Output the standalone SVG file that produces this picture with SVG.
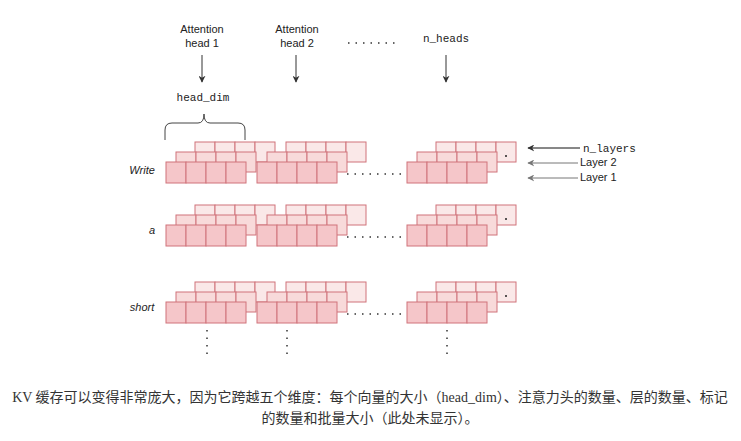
<svg xmlns="http://www.w3.org/2000/svg" width="741" height="441" viewBox="0 0 741 441">
<defs>
<style>
.f{fill:#f5c6c9;stroke:#d0737a;stroke-width:1}
.m{fill:#f8dada;stroke:#d0737a;stroke-width:1}
.b{fill:#fae8e8;stroke:#d0737a;stroke-width:1}
.t{font-family:"Liberation Sans",Arial,sans-serif;font-size:11px;fill:#222}
.mono{font-family:"Liberation Mono","DejaVu Sans Mono",monospace;font-size:11px;fill:#222}
.dots{stroke:#333;stroke-width:1.5;stroke-dasharray:1.5 6;fill:none}
.cap{font-family:"Liberation Serif","Noto Sans CJK SC",serif;font-size:14px;fill:#333}
</style>
<marker id="a" viewBox="0 0 10 10" refX="9" refY="5" markerWidth="7" markerHeight="7" orient="auto"><path d="M0,0 L10,5 L0,10 L3,5 z" fill="#333"/></marker>
<marker id="g" viewBox="0 0 10 10" refX="9" refY="5" markerWidth="7" markerHeight="7" orient="auto"><path d="M0,0 L10,5 L0,10 L3,5 z" fill="#777"/></marker>
<g id="blk">
<g class="b"><rect x="29" y="-20" width="20" height="20"/><rect x="49" y="-20" width="20" height="20"/><rect x="69" y="-20" width="20" height="20"/><rect x="89" y="-20" width="20" height="20"/></g>
<g class="m"><rect x="10" y="-10" width="20" height="20"/><rect x="30" y="-10" width="20" height="20"/><rect x="50" y="-10" width="20" height="20"/><rect x="70" y="-10" width="20" height="20"/></g>
<g class="f"><rect x="0" y="0" width="20" height="21"/><rect x="20" y="0" width="20" height="21"/><rect x="40" y="0" width="20" height="21"/><rect x="60" y="0" width="20" height="21"/></g>
</g>
<g id="row">
<use href="#blk" x="0"/>
<use href="#blk" x="91"/>
<use href="#blk" x="241"/>
<path class="dots" d="M181,12 H236"/>
<circle cx="340" cy="-6" r="1" fill="#222"/>
</g>
</defs>
<g id="heads">
<text class="t" x="202" y="33" text-anchor="middle">Attention</text>
<text class="t" x="202" y="47" text-anchor="middle">head 1</text>
<text class="t" x="297" y="33" text-anchor="middle">Attention</text>
<text class="t" x="297" y="47" text-anchor="middle">head 2</text>
<path class="dots" d="M348,43 H398"/>
<text class="mono" x="446" y="42" text-anchor="middle">n_heads</text>
<text class="mono" x="203" y="101" text-anchor="middle">head_dim</text>
<path d="M165,140 V130 Q165,123 172,123 H198 Q204,123 204,114 Q204,123 210,123 H238 Q245,123 245,130 V140" fill="none" stroke="#444" stroke-width="1"/>
</g>
<g id="rowWrite"><use href="#row" x="166" y="162"/><text class="t" x="142" y="174" text-anchor="middle" font-style="italic">Write</text></g>
<g id="rowA"><use href="#row" x="166" y="225"/><text class="t" x="152" y="234" text-anchor="middle" font-style="italic">a</text></g>
<g id="rowShort"><use href="#row" x="166" y="302"/><text class="t" x="142" y="311" text-anchor="middle" font-style="italic">short</text></g>
<g id="labels">
<text class="mono" x="583" y="152" font-size="10">n_layers</text>
<text class="t" x="580" y="166" font-size="10">Layer 2</text>
<text class="t" x="580" y="181" font-size="10">Layer 1</text>
</g>
<g id="connectors">
<line x1="202" y1="55" x2="202" y2="82" stroke="#333" marker-end="url(#a)"/>
<line x1="296" y1="55" x2="296" y2="82" stroke="#333" marker-end="url(#a)"/>
<line x1="446" y1="55" x2="446" y2="82" stroke="#333" marker-end="url(#a)"/>
<line x1="580" y1="148" x2="528" y2="148" stroke="#111" marker-end="url(#a)"/>
<line x1="578" y1="163" x2="528" y2="163" stroke="#777" marker-end="url(#g)"/>
<line x1="578" y1="178" x2="528" y2="178" stroke="#777" marker-end="url(#g)"/>
<path class="dots" d="M207,330 V360 M287,330 V360 M447,330 V360"/>
</g>
<g id="caption">
<text class="cap" x="370" y="402" text-anchor="middle">KV 缓存可以变得非常庞大，因为它跨越五个维度：每个向量的大小（head_dim）、注意力头的数量、层的数量、标记</text>
<text class="cap" x="370" y="423" text-anchor="middle">的数量和批量大小（此处未显示）。</text>
</g>
</svg>
